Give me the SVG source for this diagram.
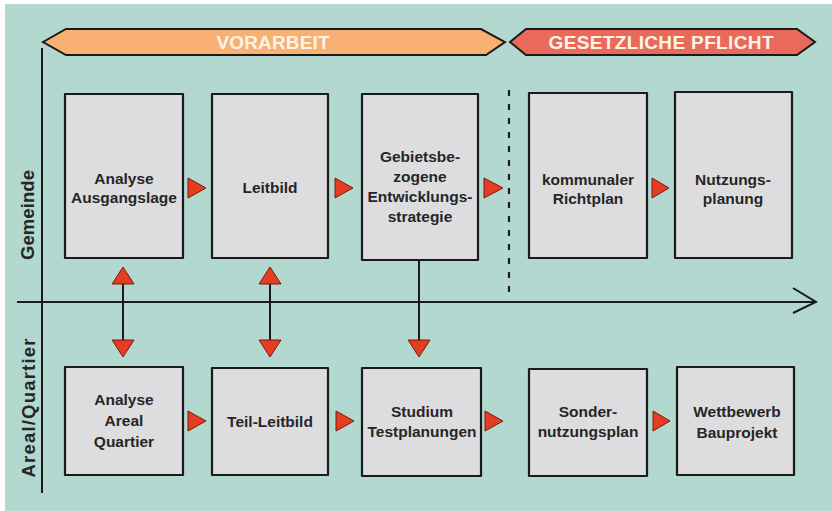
<svg xmlns="http://www.w3.org/2000/svg" width="832" height="511" viewBox="0 0 832 511">
<style>
.bg{fill:#b2d8cf}
.box{fill:#dddde0;stroke:#1a1a1a;stroke-width:2.2;stroke-linejoin:round}
.lbl{font-family:"Liberation Sans",Arial,sans-serif;font-weight:bold;font-size:15.5px;fill:#262626;text-anchor:middle}
.side{font-family:"Liberation Sans",Arial,sans-serif;font-weight:bold;font-size:18.5px;fill:#262626;text-anchor:middle}
.ban{font-family:"Liberation Sans",Arial,sans-serif;font-weight:bold;font-size:19px;fill:#fdf4e8;text-anchor:middle}
.tri{fill:#e53d22;stroke:#7a1a0c;stroke-width:1;stroke-linejoin:round}
.ln{stroke:#1a1a1a;stroke-width:2;fill:none}
</style>
<rect x="0" y="0" width="832" height="511" fill="#ffffff"/>
<rect class="bg" x="5" y="4" width="827" height="507"/>

<g id="banner-vorarbeit">
<polygon points="43,42 66,29 481,29 505,42 486,55 66,55" fill="#f8b172" stroke="#1a1a1a" stroke-width="2"/>
<text class="ban" x="273" y="49" textLength="113" lengthAdjust="spacing">VORARBEIT</text>
</g>
<g id="banner-pflicht">
<polygon points="510,42 526,29 797,29 815,42 797,55 526,55" fill="#e96a5a" stroke="#1a1a1a" stroke-width="2"/>
<text class="ban" x="661" y="49" textLength="225" lengthAdjust="spacing">GESETZLICHE PFLICHT</text>
</g>

<g id="axes">
<line class="ln" x1="42" y1="48" x2="42" y2="493"/>
<line class="ln" x1="17" y1="302" x2="816" y2="302"/>
<polyline class="ln" points="793,288 816,302 793,313"/>
<line x1="509" y1="90" x2="509" y2="294" stroke="#1a1a1a" stroke-width="2.2" stroke-dasharray="6,8"/>
<text class="side" transform="translate(34,215) rotate(-90)" textLength="90" lengthAdjust="spacing">Gemeinde</text>
<text class="side" transform="translate(35,408) rotate(-90)" textLength="139" lengthAdjust="spacing">Areal/Quartier</text>
</g>

<g id="n-analyse-ausgangslage">
<rect class="box" x="65" y="94" width="118" height="164"/>
<text class="lbl" x="124" y="184">Analyse</text>
<text class="lbl" x="124" y="203">Ausgangslage</text>
</g>
<g id="n-leitbild">
<rect class="box" x="212" y="94" width="116" height="164"/>
<text class="lbl" x="270" y="193">Leitbild</text>
</g>
<g id="n-entwicklungsstrategie">
<rect class="box" x="362" y="94" width="116" height="166"/>
<text class="lbl" x="420" y="162">Gebietsbe-</text>
<text class="lbl" x="420" y="182">zogene</text>
<text class="lbl" x="420" y="202">Entwicklungs-</text>
<text class="lbl" x="420" y="222">strategie</text>
</g>
<g id="n-richtplan">
<rect class="box" x="529" y="93" width="118" height="165"/>
<text class="lbl" x="588" y="185">kommunaler</text>
<text class="lbl" x="588" y="204">Richtplan</text>
</g>
<g id="n-nutzungsplanung">
<rect class="box" x="675" y="92" width="117" height="166"/>
<text class="lbl" x="733" y="185">Nutzungs-</text>
<text class="lbl" x="733" y="204">planung</text>
</g>

<g id="n-analyse-areal">
<rect class="box" x="65" y="367" width="118" height="108"/>
<text class="lbl" x="124" y="405">Analyse</text>
<text class="lbl" x="124" y="426">Areal</text>
<text class="lbl" x="124" y="447">Quartier</text>
</g>
<g id="n-teil-leitbild">
<rect class="box" x="212" y="368" width="116" height="107"/>
<text class="lbl" x="270" y="427">Teil-Leitbild</text>
</g>
<g id="n-studium">
<rect class="box" x="362" y="368" width="119" height="108"/>
<text class="lbl" x="422" y="417">Studium</text>
<text class="lbl" x="422" y="437">Testplanungen</text>
</g>
<g id="n-sondernutzungsplan">
<rect class="box" x="529" y="369" width="118" height="107"/>
<text class="lbl" x="588" y="417">Sonder-</text>
<text class="lbl" x="588" y="437">nutzungsplan</text>
</g>
<g id="n-wettbewerb">
<rect class="box" x="677" y="367" width="117" height="108"/>
<text class="lbl" x="737" y="417">Wettbewerb</text>
<text class="lbl" x="737" y="438">Bauprojekt</text>
</g>

<g id="connectors">
<polygon class="tri" points="188,178 206,188 188,198"/>
<polygon class="tri" points="335,178 353,188 335,198"/>
<polygon class="tri" points="484,178 503,188 484,198"/>
<polygon class="tri" points="652,178 669,188 652,198"/>
<polygon class="tri" points="188,411 206,421 188,431"/>
<polygon class="tri" points="336,411 354,421 336,431"/>
<polygon class="tri" points="485,411 503,421 485,431"/>
<polygon class="tri" points="653,411 670,421 653,431"/>
<line class="ln" x1="123" y1="284" x2="123" y2="340"/>
<polygon class="tri" points="123,267 112,284 134,284"/>
<polygon class="tri" points="112,340 134,340 123,357"/>
<line class="ln" x1="270" y1="284" x2="270" y2="340"/>
<polygon class="tri" points="270,267 259,284 281,284"/>
<polygon class="tri" points="259,340 281,340 270,357"/>
<line class="ln" x1="419" y1="261" x2="419" y2="340"/>
<polygon class="tri" points="408,340 430,340 419,357"/>
</g>
</svg>
